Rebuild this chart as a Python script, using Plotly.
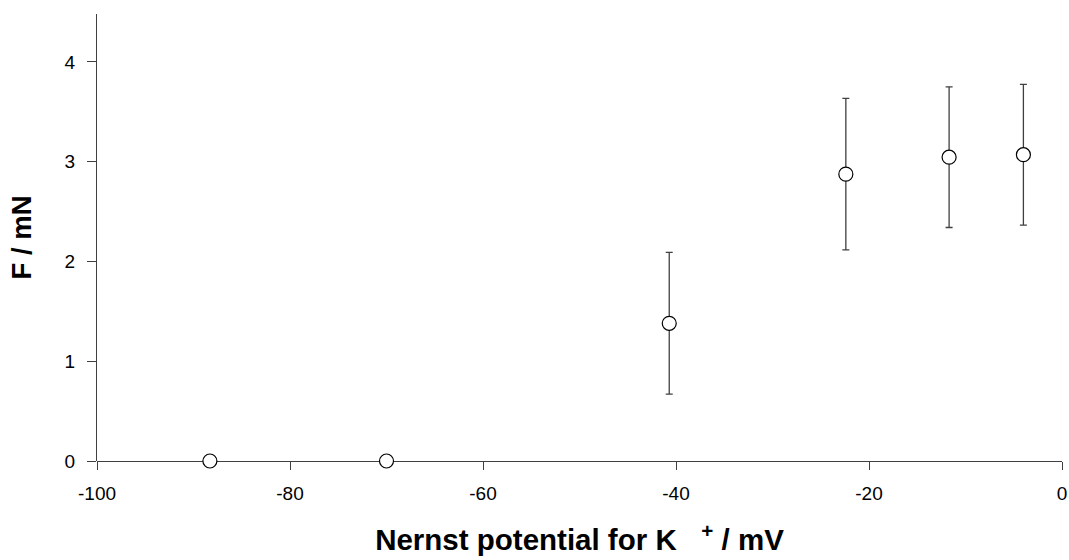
import plotly.graph_objects as go

potential_mV = [-88.3, -70.0, -40.7, -22.4, -11.7, -4.0]
force_mN = [0.0, 0.0, 1.38, 2.875, 3.045, 3.07]
force_err = [0.0, 0.0, 0.71, 0.76, 0.705, 0.705]

x_ticks = [-100, -80, -60, -40, -20, 0]
y_ticks = [0, 1, 2, 3, 4]

axis_color = "#404040"
font_family = "Liberation Sans, Arial, sans-serif"

fig = go.Figure()
fig.add_trace(go.Scatter(
    x=potential_mV, y=force_mN,
    mode="markers",
    marker=dict(symbol="circle", size=14, color="white",
                line=dict(color="black", width=1.2)),
    error_y=dict(type="data", array=force_err, visible=True,
                 color="#404040", thickness=1.3, width=3.5),
    showlegend=False,
    cliponaxis=False,
))

fig.update_layout(
    width=1069, height=560,
    margin=dict(l=97, r=7, t=14, b=99),
    paper_bgcolor="white", plot_bgcolor="white",
    font=dict(family=font_family, size=19, color="black"),
    xaxis=dict(
        range=[-100, 0], tickvals=x_ticks, ticktext=[str(v) for v in x_ticks],
        showgrid=False, zeroline=False, showline=False,
        ticks="outside", ticklen=8, tickcolor=axis_color, tickwidth=1.2,
        ticklabelstandoff=7, ticklabeloverflow="allow", automargin=False,
        title=dict(text="<b>Nernst potential for K&nbsp;&nbsp;&nbsp;<sup>+</sup> / mV</b>",
                   font=dict(size=29.5), standoff=26),
    ),
    yaxis=dict(
        range=[0, 4.48], tickvals=y_ticks, ticktext=[str(v) for v in y_ticks],
        showgrid=False, zeroline=True, zerolinecolor=axis_color, zerolinewidth=1.3,
        showline=True, linecolor=axis_color, linewidth=1.3,
        ticks="outside", ticklen=9, tickcolor=axis_color, tickwidth=1.2,
        ticklabelstandoff=8, automargin=False,
        title=dict(text="<b>F / mN</b>", font=dict(size=27.5), standoff=24),
    ),
)

# remove the browser's default 8px body margin so the figure fills the window exactly
fig.write_html("out.html", config={"displayModeBar": False},
               post_script="document.body.style.margin='0';")
